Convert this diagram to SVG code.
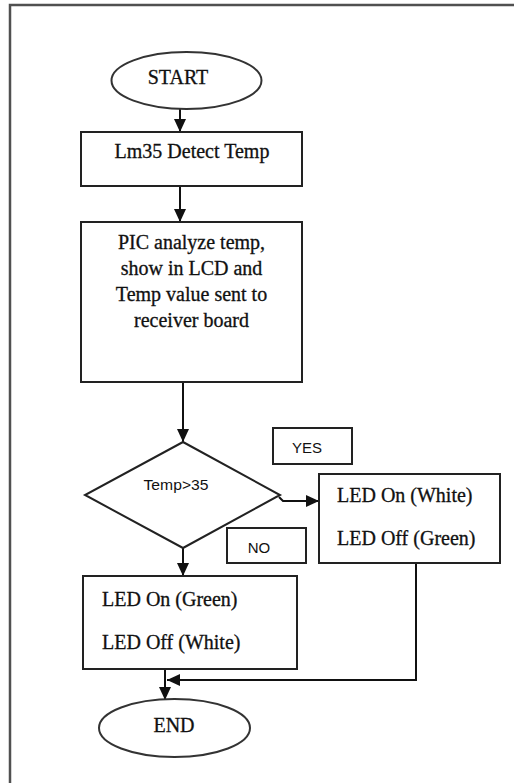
<svg xmlns="http://www.w3.org/2000/svg" width="514" height="783" viewBox="0 0 514 783">
<defs>
<marker id="arr" markerUnits="userSpaceOnUse" markerWidth="13" markerHeight="12" refX="13" refY="6" orient="auto">
<path d="M0,0 L13,6 L0,12 z" fill="#111"/>
</marker>
<style>
.box{fill:#fff;stroke:#222;stroke-width:2}
.term{fill:#fff;stroke:#333;stroke-width:2}
.conn{fill:none;stroke:#111;stroke-width:2}
.serif{font-family:"Liberation Serif","Times New Roman",serif;font-size:20px;fill:#111;stroke:#111;stroke-width:0.3}
.sans{font-family:"Liberation Sans",Arial,sans-serif;font-size:15px;fill:#111}
.mid{text-anchor:middle}
</style>
</defs>
<rect width="514" height="783" fill="#fff"/>
<g id="frame">
<path d="M10,783 L10,5 L514,5" fill="none" stroke="#505050" stroke-width="2.5"/>
</g>
<g id="connectors">
<line class="conn" x1="180" y1="109" x2="180" y2="132" marker-end="url(#arr)"/>
<line class="conn" x1="180" y1="186" x2="180" y2="222" marker-end="url(#arr)"/>
<line class="conn" x1="183" y1="382" x2="183" y2="442" marker-end="url(#arr)"/>
<polyline class="conn" points="279,497 283,501 319,501" marker-end="url(#arr)"/>
<line class="conn" x1="183" y1="548" x2="183" y2="576" marker-end="url(#arr)"/>
<line class="conn" x1="165" y1="669" x2="165" y2="700" marker-end="url(#arr)"/>
<polyline class="conn" points="416,563 416,680 167,680" marker-end="url(#arr)"/>
</g>
<g id="start">
<ellipse class="term" cx="186.5" cy="80.5" rx="75" ry="28.5"/>
<text class="serif mid" x="178" y="84">START</text>
</g>
<g id="detect">
<rect class="box" x="81" y="132" width="221" height="54"/>
<text class="serif mid" x="192" y="158">Lm35 Detect Temp</text>
</g>
<g id="analyze">
<rect class="box" x="81" y="222" width="221" height="160"/>
<text class="serif mid" x="191.5" y="249">PIC analyze temp,</text>
<text class="serif mid" x="191.5" y="275">show in LCD and</text>
<text class="serif mid" x="191.5" y="301">Temp value sent to</text>
<text class="serif mid" x="191.5" y="327">receiver board</text>
</g>
<g id="decision">
<polygon class="box" points="183,442 280,495 183,548 85,495"/>
<text class="sans mid" x="176" y="490" textLength="65" lengthAdjust="spacingAndGlyphs" font-size="16">Temp&gt;35</text>
</g>
<g id="yes-label">
<rect class="box" x="273" y="428" width="79" height="36"/>
<text class="sans mid" x="307" y="453">YES</text>
</g>
<g id="no-label">
<rect class="box" x="227" y="528" width="79" height="35"/>
<text class="sans mid" x="259" y="553">NO</text>
</g>
<g id="white-on">
<rect class="box" x="319" y="474" width="181" height="89"/>
<text class="serif" x="337" y="502">LED On (White)</text>
<text class="serif" x="337" y="545">LED Off (Green)</text>
</g>
<g id="green-on">
<rect class="box" x="83" y="576" width="214" height="93"/>
<text class="serif" x="102" y="606">LED On (Green)</text>
<text class="serif" x="102" y="649">LED Off (White)</text>
</g>
<g id="end">
<ellipse class="term" cx="174.5" cy="728" rx="75.5" ry="29"/>
<text class="serif mid" x="174" y="732">END</text>
</g>
</svg>
